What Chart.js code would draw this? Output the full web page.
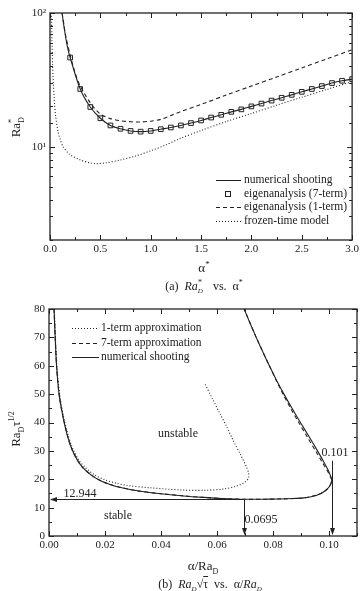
<!DOCTYPE html>
<html>
<head>
<meta charset="utf-8">
<script src="https://cdn.jsdelivr.net/npm/chart.js@4.4.1/dist/chart.umd.min.js"></script>
<style>
  body { margin:0; background:#fff; }
  #page { position:relative; width:362px; height:591px; font-family:'Liberation Serif', serif; color:#222; }
  canvas { position:absolute; left:0; }
  .t { position:absolute; white-space:nowrap; font-size:12px; line-height:1; }
  .c { transform:translate(-50%,-50%); }
  .rot { transform:translate(-50%,-50%) rotate(-90deg); font-size:13px; }
  .lg { position:absolute; font-size:11.5px; line-height:1; white-space:nowrap; }
  .smp { position:absolute; height:1px; }
  .solid { background:#222; }
  .dash { background:repeating-linear-gradient(90deg,#222 0 4px,transparent 4px 7px); }
  .dot { background:repeating-linear-gradient(90deg,#222 0 1px,transparent 1px 3px); }
  .sq { position:absolute; width:4px; height:4px; border:1px solid #222; background:#fff; }
  i { font-style:italic; }
</style>
</head>
<body>
<div id="page">
  <canvas id="chartA" width="362" height="272" style="top:0"></canvas>
  <canvas id="chartB" width="362" height="272" style="top:296px"></canvas>

  <!-- chart (a) texts -->
  <div class="t rot" style="left:15px;top:125px">Ra<span style="position:relative;top:4px;font-size:8px">D</span><span style="position:relative;top:-6px;left:-6px;font-size:9px">*</span></div>
  <div class="t c" style="left:204px;top:267px;font-size:13px">&alpha;<span style="position:relative;top:-5px;font-size:9px">*</span></div>
  <div class="t c" style="left:204px;top:286px;font-size:12px">(a)&nbsp;&nbsp;<i>Ra</i><span style="position:relative;top:3px;font-size:7px"><i>D</i></span><span style="position:relative;top:-5px;left:-5px;font-size:8px">*</span>&nbsp;&nbsp;vs.&nbsp;&nbsp;&alpha;<span style="position:relative;top:-5px;font-size:8px">*</span></div>

  <div class="smp solid" style="left:216px;top:180px;width:25px"></div>
  <div class="lg" style="left:244px;top:174px">numerical shooting</div>
  <div class="sq" style="left:225px;top:191px"></div>
  <div class="lg" style="left:244px;top:188px">eigenanalysis (7-term)</div>
  <div class="smp dash" style="left:216px;top:207px;width:25px"></div>
  <div class="lg" style="left:244px;top:201px">eigenanalysis (1-term)</div>
  <div class="smp dot" style="left:216px;top:221px;width:25px"></div>
  <div class="lg" style="left:244px;top:215px">frozen-time model</div>

  <!-- chart (b) texts -->
  <div class="t rot" style="left:15px;top:429px">Ra<span style="position:relative;top:4px;font-size:8px">D</span>&tau;<span style="position:relative;top:-6px;font-size:8px">1/2</span></div>
  <div class="t c" style="left:203px;top:565px;font-size:13px">&alpha;/Ra<span style="position:relative;top:4px;font-size:8px">D</span></div>
  <div class="t c" style="left:210px;top:584px;font-size:12px">(b)&nbsp;&nbsp;<i>Ra</i><span style="position:relative;top:3px;font-size:7px"><i>D</i></span>&radic;<span style="text-decoration:overline">&tau;</span>&nbsp;&nbsp;vs.&nbsp;&nbsp;&alpha;/<i>Ra</i><span style="position:relative;top:3px;font-size:7px"><i>D</i></span></div>

  <div class="smp dot" style="left:72px;top:328px;width:27px"></div>
  <div class="lg" style="left:101px;top:322px">1-term approximation</div>
  <div class="smp dash" style="left:72px;top:343px;width:27px"></div>
  <div class="lg" style="left:101px;top:337px">7-term approximation</div>
  <div class="smp solid" style="left:72px;top:357px;width:27px"></div>
  <div class="lg" style="left:101px;top:351px">numerical shooting</div>

  <div class="t c" style="left:80px;top:493px">12.944</div>
  <div class="t c" style="left:118px;top:515px">stable</div>
  <div class="t c" style="left:178px;top:433px">unstable</div>
  <div class="t c" style="left:261px;top:519px">0.0695</div>
  <div class="t c" style="left:335px;top:452px">0.101</div>
</div>

<script>
// ---- chart (a): Ra*_D vs alpha* ----
var shootHeadAlpha = [0.12, 0.13, 0.14, 0.16, 0.18];
var shootHeadRa = [100, 88, 78, 63, 53];

var eigen7Alpha = [0.2, 0.3, 0.4, 0.5, 0.6, 0.7, 0.8, 0.9, 1.0, 1.1, 1.2, 1.3, 1.4, 1.5, 1.6,
                   1.7, 1.8, 1.9, 2.0, 2.1, 2.2, 2.3, 2.4, 2.5, 2.6, 2.7, 2.8, 2.9, 3.0];
var eigen7Ra = [46.4, 27.0, 19.8, 16.3, 14.4, 13.6, 13.1, 12.94, 13.1, 13.5, 13.9, 14.4, 15.0, 15.7, 16.5,
                17.3, 18.2, 19.0, 20.0, 21.0, 22.1, 23.2, 24.4, 25.7, 27.0, 28.4, 29.9, 31.1, 32.0];

var eigen1Alpha = [0.12, 0.14, 0.16, 0.2, 0.25, 0.3, 0.4, 0.5, 0.6, 0.7, 0.8, 0.9, 1.0, 1.1, 1.2, 1.3,
                   1.5, 1.75, 2.0, 2.25, 2.5, 2.75, 3.0];
var eigen1Ra = [100, 80, 65, 48.5, 35.5, 28.5, 21.3, 17.5, 16.2, 15.6, 15.35, 15.3, 15.5, 16.0, 17.1, 18.3,
                20.7, 24.3, 28.4, 33.2, 38.8, 45.4, 53];

var frozenAlpha = [0.014, 0.02, 0.026, 0.033, 0.045, 0.056, 0.08, 0.1, 0.13, 0.2, 0.3, 0.4, 0.46, 0.55,
                   0.7, 0.85, 1.0, 1.15, 1.28, 1.5, 1.75, 2.0, 2.25, 2.5, 2.75, 3.0];
var frozenRa = [100, 60, 40, 30, 21, 17, 12.9, 11.4, 10.0, 8.7, 7.95, 7.55, 7.46, 7.55,
                7.95, 8.5, 9.3, 10.3, 11.4, 13.2, 15.4, 17.7, 20.4, 23.4, 26.8, 30.7];

// ---- chart (b): Ra_D sqrt(tau) vs alpha/Ra_D ----
var shootX = [0.0018, 0.0022, 0.0027, 0.0036, 0.0050, 0.0064, 0.0080, 0.0100, 0.0120, 0.0157, 0.0190,
              0.0223, 0.0260, 0.0294, 0.0340, 0.0400, 0.0480, 0.0550, 0.0620, 0.0695, 0.0760, 0.0820,
              0.0870, 0.0910, 0.0940, 0.0967, 0.0990, 0.1003, 0.1010, 0.1006, 0.0998, 0.0982, 0.0959,
              0.0929, 0.0898, 0.0868, 0.0839, 0.0812, 0.0787, 0.0763, 0.0740, 0.0718, 0.0697];
var shootY = [80, 70, 60, 50, 42, 36, 31, 27, 24.2, 21, 19.2,
              18.0, 17.0, 16.3, 15.6, 14.9, 14.1, 13.6, 13.2, 12.944, 12.97, 13.05,
              13.2, 13.45, 13.9, 14.8, 16.2, 17.7, 19.5, 21.0, 23.0, 26.0, 30.0,
              35.0, 40.0, 45.0, 50.0, 55.0, 60, 65, 70, 75, 80];

var term7X = [0.0018, 0.0027, 0.0036, 0.0050, 0.0080, 0.0120, 0.0190, 0.0294, 0.0400, 0.0550, 0.0695,
              0.0820, 0.0910, 0.0967, 0.0990, 0.1003, 0.1010, 0.1005, 0.0994, 0.0976, 0.0952,
              0.0922, 0.0892, 0.0863, 0.0836, 0.0811, 0.0787, 0.0740, 0.0697];
var term7Y = [80, 60, 50, 42, 31, 24.2, 19.2, 16.3, 14.9, 13.6, 12.944,
              13.05, 13.45, 14.8, 16.2, 17.7, 19.5, 21.0, 23.0, 26.0, 30.0,
              35.0, 40.0, 45.0, 50.0, 55.0, 60, 70, 80];

var term1X = [0.0019, 0.0023, 0.0028, 0.0038, 0.0052, 0.0067, 0.0084, 0.0105, 0.0127, 0.0165, 0.0200,
              0.0240, 0.0280, 0.0360, 0.0478, 0.0560, 0.0625, 0.0669, 0.0700, 0.0713, 0.0712, 0.0705,
              0.0685, 0.0657, 0.0635, 0.0610, 0.0583, 0.0556];
var term1Y = [80, 70, 60, 50, 42, 36, 31, 27, 24.4, 21.4, 19.8,
              18.6, 17.8, 17.0, 16.2, 16.1, 16.6, 17.6, 19.0, 20.5, 22.5, 24.4,
              28.5, 33.8, 38.5, 43.2, 48.5, 53.8];

function pts(xs, ys) {
  return xs.map(function(x, i) { return { x: x, y: ys[i] }; });
}

// frame with inward ticks on all four sides
var frameTicks = {
  id: 'frameTicks',
  afterDatasetsDraw: function(chart) {
    var ctx = chart.ctx, a = chart.chartArea, sx = chart.scales.x, sy = chart.scales.y;
    ctx.save();
    ctx.strokeStyle = '#222';
    ctx.lineWidth = 1.3;
    ctx.strokeRect(a.left, a.top, a.right - a.left, a.bottom - a.top);
    ctx.lineWidth = 1;
    ctx.beginPath();
    sx.ticks.forEach(function(t) {
      var p = Math.round(sx.getPixelForValue(t.value)) + 0.5;
      var len = t.label !== '' ? 5 : 3;
      ctx.moveTo(p, a.bottom); ctx.lineTo(p, a.bottom - len);
      ctx.moveTo(p, a.top); ctx.lineTo(p, a.top + len);
    });
    sy.ticks.forEach(function(t) {
      var p = Math.round(sy.getPixelForValue(t.value)) + 0.5;
      var len = t.label !== '' ? 5 : 3;
      ctx.moveTo(a.left, p); ctx.lineTo(a.left + len, p);
      ctx.moveTo(a.right, p); ctx.lineTo(a.right - len, p);
    });
    ctx.stroke();
    ctx.restore();
  }
};

var tickFont = { family: 'Liberation Serif', size: 11 };

function lineSet(data, dash) {
  return {
    data: data, showLine: true, borderColor: '#222', borderWidth: 1.1,
    borderDash: dash, pointRadius: 0, tension: 0.3, fill: false
  };
}

new Chart(document.getElementById('chartA'), {
  type: 'scatter',
  data: {
    datasets: [
      lineSet(pts(frozenAlpha, frozenRa), [1, 2]),
      lineSet(pts(eigen1Alpha, eigen1Ra), [4, 3]),
      lineSet(pts(shootHeadAlpha.concat(eigen7Alpha), shootHeadRa.concat(eigen7Ra)), []),
      {
        data: pts(eigen7Alpha, eigen7Ra), showLine: false, pointStyle: 'rect',
        pointRadius: 3.3, pointBorderWidth: 1, pointBorderColor: '#222', pointBackgroundColor: '#fff'
      }
    ]
  },
  options: {
    responsive: false, animation: false, devicePixelRatio: 1, events: [],
    layout: { padding: { top: 13, right: 5, left: 0, bottom: 0 } },
    plugins: { legend: { display: false }, tooltip: { enabled: false } },
    scales: {
      x: {
        type: 'linear', min: 0, max: 3,
        afterFit: function(s) { s.height = 32; },
        grid: { display: false, drawTicks: false }, border: { display: false },
        ticks: {
          stepSize: 0.25, autoSkip: false, maxRotation: 0, padding: 3, color: '#222', font: tickFont,
          callback: function(v) { return Math.abs(v * 2 - Math.round(v * 2)) < 1e-6 ? v.toFixed(1) : ''; }
        }
      },
      y: {
        type: 'logarithmic', min: 2, max: 100,
        afterFit: function(s) { s.width = 50; },
        grid: { display: false, drawTicks: false }, border: { display: false },
        ticks: {
          autoSkip: false, padding: 4, color: '#222', font: tickFont,
          callback: function(v) { return v === 10 ? '10\u00b9' : (v === 100 ? '10\u00b2' : ''); }
        }
      }
    }
  },
  plugins: [frameTicks]
});

// arrows and marker lines for chart (b)
var arrows = {
  id: 'arrows',
  afterDatasetsDraw: function(chart) {
    var ctx = chart.ctx, sx = chart.scales.x, sy = chart.scales.y;
    function head(x, y, dir) {
      ctx.beginPath();
      if (dir === 'left') { ctx.moveTo(x, y); ctx.lineTo(x + 7, y - 2.5); ctx.lineTo(x + 7, y + 2.5); }
      else { ctx.moveTo(x, y); ctx.lineTo(x - 2.5, y - 7); ctx.lineTo(x + 2.5, y - 7); }
      ctx.closePath(); ctx.fill();
    }
    ctx.save();
    ctx.strokeStyle = '#222'; ctx.fillStyle = '#222'; ctx.lineWidth = 1;
    var yMin = Math.round(sy.getPixelForValue(12.944)) + 0.5, x0 = sx.getPixelForValue(0);
    var xA = Math.round(sx.getPixelForValue(0.0695)) + 0.5;
    var xB = Math.round(sx.getPixelForValue(0.101)) + 0.5;
    var yB = sy.getPixelForValue(26.5), yAxis = sy.getPixelForValue(0);
    ctx.beginPath();
    ctx.moveTo(xA, yMin); ctx.lineTo(x0 + 2, yMin);
    ctx.moveTo(xA, yMin); ctx.lineTo(xA, yAxis - 2);
    ctx.moveTo(xB, yB); ctx.lineTo(xB, yAxis - 2);
    ctx.stroke();
    head(x0 + 1, yMin, 'left');
    head(xA, yAxis - 1, 'down');
    head(xB, yAxis - 1, 'down');
    ctx.restore();
  }
};

new Chart(document.getElementById('chartB'), {
  type: 'scatter',
  data: {
    datasets: [
      lineSet(pts(term1X, term1Y), [1, 2]),
      lineSet(pts(term7X, term7Y), [4, 3]),
      lineSet(pts(shootX, shootY), [])
    ]
  },
  options: {
    responsive: false, animation: false, devicePixelRatio: 1, events: [],
    layout: { padding: { top: 13, right: 5, left: 0, bottom: 0 } },
    plugins: { legend: { display: false }, tooltip: { enabled: false } },
    scales: {
      x: {
        type: 'linear', min: 0, max: 0.11,
        afterFit: function(s) { s.height = 32; },
        grid: { display: false, drawTicks: false }, border: { display: false },
        ticks: {
          stepSize: 0.01, autoSkip: false, maxRotation: 0, padding: 3, color: '#222', font: tickFont,
          callback: function(v) { return Math.round(v * 100) % 2 === 0 ? v.toFixed(2) : ''; }
        }
      },
      y: {
        type: 'linear', min: 0, max: 80,
        afterFit: function(s) { s.width = 49; },
        grid: { display: false, drawTicks: false }, border: { display: false },
        ticks: {
          stepSize: 5, autoSkip: false, padding: 4, color: '#222', font: tickFont,
          callback: function(v) { return v % 10 === 0 ? String(v) : ''; }
        }
      }
    }
  },
  plugins: [frameTicks, arrows]
});
</script>
</body>
</html>
